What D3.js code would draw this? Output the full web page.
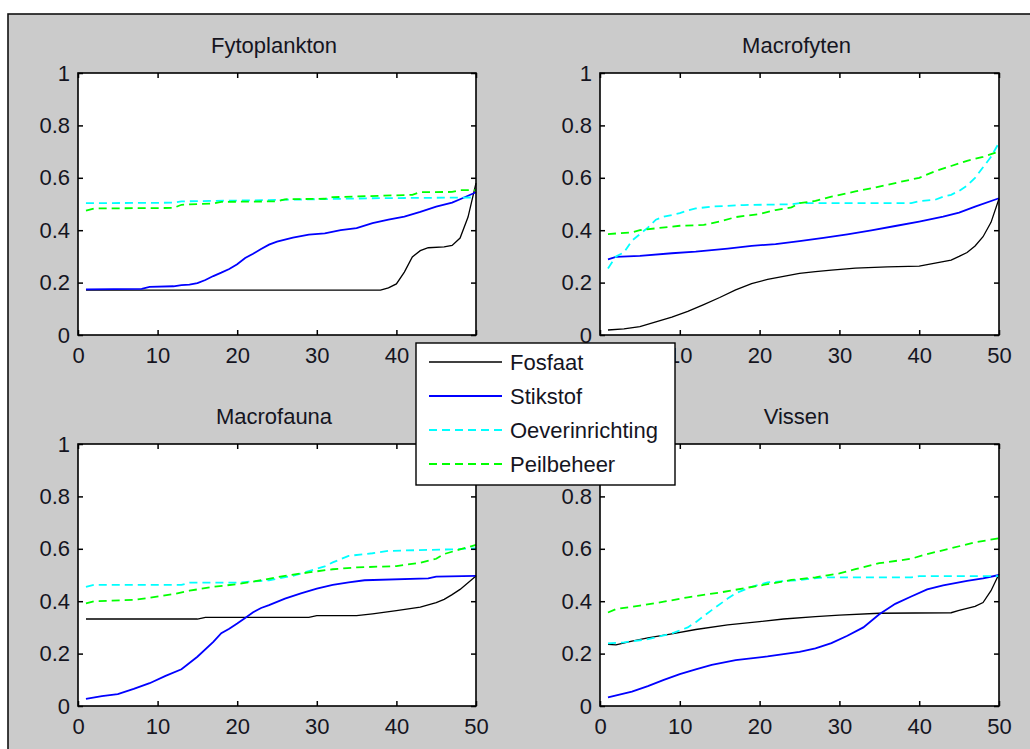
<!DOCTYPE html>
<html>
<head>
<meta charset="utf-8">
<script src="https://cdn.jsdelivr.net/npm/d3@7"></script>
<style>
  html, body { margin: 0; padding: 0; background: #ffffff; }
  svg { display: block; }
  text { font-family: Arial, "Liberation Sans", Helvetica, sans-serif; fill: #15151f; }
</style>
</head>
<body>
<svg id="chart" width="1030" height="749"></svg>
<script>
// ---------- data ----------
const panelTitles = ["Fytoplankton", "Macrofyten", "Macrofauna", "Vissen"];
const seriesNames = ["Fosfaat", "Stikstof", "Oeverinrichting", "Peilbeheer"];
const xTicks = [0, 10, 20, 30, 40, 50];
const yTicks = [0, 0.2, 0.4, 0.6, 0.8, 1];
const yTickLabels = ["0", "0.2", "0.4", "0.6", "0.8", "1"];

// Fytoplankton
const fytoFosfaat = [[1,.171],[38,.171],[39,.18],[40,.195],[41,.24],[42,.298],[43,.322],[44,.333],[46,.336],[47,.342],[48,.37],[49,.45],[50,.58]];
const fytoStikstof = [[1,.174],[8,.176],[9,.184],[12,.186],[13,.19],[14,.192],[15,.198],[16,.21],[17,.225],[18,.238],[19,.252],[20,.27],[21,.294],[22,.31],[23,.328],[24,.345],[25,.356],[27,.372],[29,.383],[31,.388],[33,.4],[35,.408],[37,.427],[39,.44],[41,.452],[43,.47],[45,.49],[47,.505],[48,.518],[50,.545]];
const fytoOever = [[1,.503],[12,.505],[13,.51],[24,.515],[37,.522],[50,.525]];
const fytoPeil = [[1,.475],[2,.483],[12,.485],[13,.497],[17,.502],[18,.508],[25,.51],[26,.518],[31,.52],[32,.526],[42,.535],[43,.545],[47,.546],[48,.553],[50,.553]];

// Macrofyten
const macrofFosfaat = [[1,.019],[3,.023],[5,.032],[7,.05],[9,.068],[11,.09],[13,.116],[15,.143],[17,.172],[19,.196],[21,.212],[23,.224],[25,.235],[27,.242],[29,.248],[32,.255],[36,.26],[40,.263],[42,.274],[44,.286],[45,.3],[46,.315],[47,.34],[48,.375],[49,.43],[50,.52]];
const macrofStikstof = [[1,.289],[2,.298],[5,.302],[9,.312],[12,.318],[16,.33],[19,.34],[22,.347],[25,.358],[28,.371],[31,.384],[34,.399],[37,.416],[40,.433],[43,.452],[45,.467],[47,.49],[50,.522]];
const macrofOever = [[1,.254],[2,.3],[3,.315],[4,.36],[5,.385],[6,.41],[7,.44],[8,.452],[9,.458],[10,.465],[11,.475],[12,.483],[14,.49],[18,.496],[24,.499],[25,.503],[39,.503],[40,.511],[42,.516],[43,.528],[44,.535],[45,.55],[46,.57],[47,.6],[48,.64],[49,.68],[50,.734]];
const macrofPeil = [[1,.385],[4,.392],[5,.4],[7,.407],[10,.417],[13,.42],[15,.433],[17,.45],[20,.462],[22,.477],[24,.487],[25,.503],[27,.512],[29,.528],[32,.548],[34,.56],[37,.58],[40,.6],[42,.625],[44,.645],[46,.665],[48,.68],[50,.7]];

// Macrofauna
const faunaFosfaat = [[1,.332],[15,.332],[16,.338],[29,.338],[30,.345],[35,.345],[37,.352],[40,.364],[43,.377],[45,.395],[46,.407],[47,.425],[48,.445],[49,.47],[50,.496]];
const faunaStikstof = [[1,.027],[3,.038],[5,.045],[7,.065],[9,.087],[11,.115],[13,.14],[15,.188],[17,.245],[18,.278],[19,.295],[20,.315],[21,.336],[22,.358],[23,.374],[24,.385],[26,.41],[28,.43],[30,.448],[32,.462],[34,.472],[36,.48],[44,.487],[45,.494],[50,.497]];
const faunaOever = [[1,.455],[2,.462],[13,.462],[14,.471],[20,.471],[24,.48],[27,.497],[29,.515],[31,.533],[32,.548],[34,.573],[37,.583],[39,.592],[47,.598],[50,.602]];
const faunaPeil = [[1,.392],[2,.4],[7,.405],[9,.413],[12,.427],[14,.44],[17,.455],[20,.465],[23,.48],[26,.497],[29,.51],[32,.522],[35,.529],[40,.534],[43,.547],[45,.562],[46,.58],[48,.598],[50,.615]];

// Vissen
const vissenFosfaat = [[1,.235],[2,.233],[4,.248],[6,.26],[9,.275],[12,.292],[16,.31],[20,.322],[23,.332],[27,.341],[30,.347],[35,.354],[44,.356],[45,.365],[47,.38],[48,.395],[49,.44],[50,.504]];
const vissenStikstof = [[1,.033],[4,.055],[6,.076],[8,.1],[10,.122],[12,.14],[14,.157],[17,.175],[21,.189],[25,.207],[27,.22],[29,.24],[31,.268],[33,.3],[35,.35],[37,.39],[39,.418],[41,.445],[43,.46],[46,.478],[48,.487],[50,.5]];
const vissenOever = [[1,.239],[3,.243],[6,.255],[9,.277],[11,.3],[12,.32],[14,.366],[16,.41],[17,.43],[19,.455],[21,.472],[25,.481],[28,.491],[39,.491],[40,.496],[50,.496]];
const vissenPeil = [[1,.357],[2,.37],[5,.383],[8,.398],[11,.415],[15,.433],[18,.449],[21,.465],[24,.481],[27,.491],[30,.506],[32,.522],[35,.545],[39,.562],[41,.58],[44,.602],[47,.625],[50,.64]];

const panelSeries = [
  [fytoFosfaat, fytoStikstof, fytoOever, fytoPeil],
  [macrofFosfaat, macrofStikstof, macrofOever, macrofPeil],
  [faunaFosfaat, faunaStikstof, faunaOever, faunaPeil],
  [vissenFosfaat, vissenStikstof, vissenOever, vissenPeil]
];

// ---------- styles ----------
const seriesStyle = [
  { color: "#000000", width: 1.3, dash: null },
  { color: "#0000ff", width: 1.8, dash: null },
  { color: "#00ffff", width: 1.8, dash: "8,5" },
  { color: "#00ff00", width: 1.8, dash: "8,5" }
];
const FONT = 22;
const panelBoxes = [
  { x0: 78, x1: 476, y0: 73, y1: 335 },
  { x0: 600, x1: 999, y0: 73, y1: 335 },
  { x0: 78, x1: 476, y0: 444, y1: 706 },
  { x0: 600, x1: 999, y0: 444, y1: 706 }
];

const svg = d3.select("#chart");

// figure background + frame
svg.append("rect").attr("x", 8).attr("y", 14).attr("width", 1040).attr("height", 760)
  .attr("fill", "#cbcbcb").attr("stroke", "#111").attr("stroke-width", 1.6);

panelBoxes.forEach((b, i) => {
  const x = d3.scaleLinear().domain([0, 50]).range([b.x0, b.x1]);
  const y = d3.scaleLinear().domain([0, 1]).range([b.y1, b.y0]);
  const g = svg.append("g");

  g.append("rect").attr("x", b.x0).attr("y", b.y0)
    .attr("width", b.x1 - b.x0).attr("height", b.y1 - b.y0).attr("fill", "#fff");

  const clipId = "clip" + i;
  svg.append("clipPath").attr("id", clipId).append("rect")
    .attr("x", b.x0).attr("y", b.y0 - 2).attr("width", b.x1 - b.x0 + 2).attr("height", b.y1 - b.y0 + 2);

  const line = d3.line().x(d => x(d[0])).y(d => y(d[1]));
  panelSeries[i].forEach((data, s) => {
    const st = seriesStyle[s];
    g.append("path").datum(data)
      .attr("d", line)
      .attr("fill", "none")
      .attr("stroke", st.color)
      .attr("stroke-width", st.width)
      .attr("stroke-dasharray", st.dash)
      .attr("clip-path", "url(#" + clipId + ")");
  });

  // axes (inward ticks on all four sides)
  const axB = g.append("g").attr("transform", `translate(0,${b.y1})`)
    .call(d3.axisBottom(x).tickValues(xTicks).tickSizeInner(-5).tickSizeOuter(0).tickPadding(12).tickFormat(d3.format("d")));
  const axT = g.append("g").attr("transform", `translate(0,${b.y0})`)
    .call(d3.axisTop(x).tickValues(xTicks).tickSizeInner(-5).tickSizeOuter(0).tickFormat(""));
  const axL = g.append("g").attr("transform", `translate(${b.x0},0)`)
    .call(d3.axisLeft(y).tickValues(yTicks).tickSizeInner(-5).tickSizeOuter(0).tickPadding(8)
      .tickFormat((d, k) => yTickLabels[k]));
  const axR = g.append("g").attr("transform", `translate(${b.x1},0)`)
    .call(d3.axisRight(y).tickValues(yTicks).tickSizeInner(-5).tickSizeOuter(0).tickFormat(""));
  [axB, axT, axL, axR].forEach(a => {
    a.select(".domain").remove();
    a.selectAll(".tick line").attr("stroke", "#000").attr("stroke-width", 1.5);
    a.selectAll(".tick text").attr("font-size", FONT).attr("fill", "#15151f")
      .style("font-family", "Arial, 'Liberation Sans', sans-serif");
  });

  g.append("rect").attr("x", b.x0).attr("y", b.y0)
    .attr("width", b.x1 - b.x0).attr("height", b.y1 - b.y0)
    .attr("fill", "none").attr("stroke", "#000").attr("stroke-width", 1.6);

  g.append("text").attr("x", (b.x0 + b.x1) / 2 - 3).attr("y", b.y0 - 20)
    .attr("text-anchor", "middle").attr("font-size", FONT).text(panelTitles[i]);
});

// legend
const leg = { x: 416, y: 343, w: 259, h: 142 };
const lg = svg.append("g");
lg.append("rect").attr("x", leg.x).attr("y", leg.y).attr("width", leg.w).attr("height", leg.h)
  .attr("fill", "#fff").attr("stroke", "#000").attr("stroke-width", 1.4);
const rowY = d3.scalePoint().domain(seriesNames).range([leg.y + 19, leg.y + 121]);
seriesNames.forEach((name, s) => {
  const st = seriesStyle[s];
  lg.append("line").attr("x1", leg.x + 13).attr("x2", leg.x + 86)
    .attr("y1", rowY(name)).attr("y2", rowY(name))
    .attr("stroke", st.color).attr("stroke-width", s === 0 ? 1.3 : 1.8)
    .attr("stroke-dasharray", st.dash);
  lg.append("text").attr("x", leg.x + 94).attr("y", rowY(name) + 8)
    .attr("font-size", FONT).text(name);
});
</script>
</body>
</html>
